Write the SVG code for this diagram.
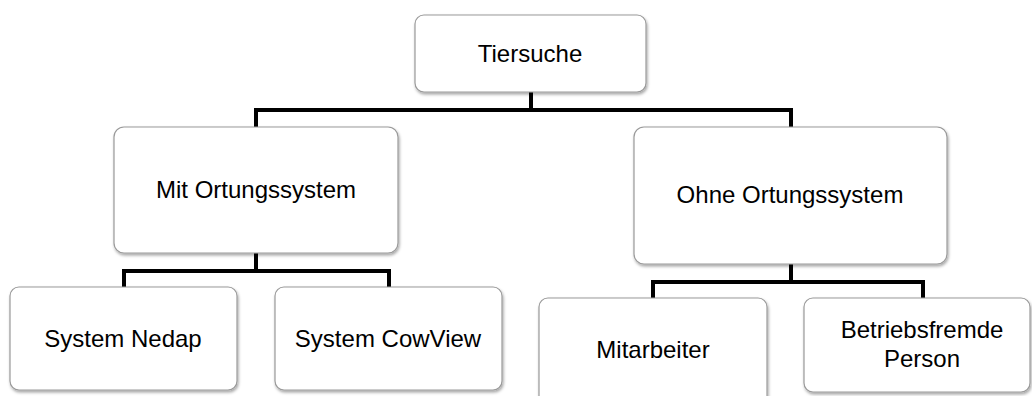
<svg xmlns="http://www.w3.org/2000/svg" width="1032" height="396" viewBox="0 0 1032 396">
<defs>
<filter id="sh" x="-10%" y="-10%" width="120%" height="130%">
<feDropShadow dx="1" dy="2" stdDeviation="1.6" flood-color="#000" flood-opacity="0.35"/>
</filter>
<style>
.box{fill:#fff;stroke:#9a9a9a;stroke-width:1.2;filter:url(#sh)}
.lbl{font-family:"Liberation Sans",Arial,sans-serif;font-size:24px;fill:#000;text-anchor:middle}
.con{fill:none;stroke:#000;stroke-width:4;stroke-linejoin:miter}
</style>
</defs>
<rect width="1032" height="396" fill="#fff"/>
<g id="connectors">
<path class="con" d="M256,127 V110 H791 V127 M531,92 V110"/>
<path class="con" d="M124,287 V271 H389 V287 M256,253 V271"/>
<path class="con" d="M653,298 V282 H923 V298 M791,264 V282"/>
</g>
<g id="n-tiersuche">
<rect class="box" x="415" y="15" width="231" height="77" rx="9"/>
<text class="lbl" x="530" y="62">Tiersuche</text>
</g>
<g id="n-mit">
<rect class="box" x="114" y="127" width="284" height="126" rx="10"/>
<text class="lbl" x="256" y="198">Mit Ortungssystem</text>
</g>
<g id="n-ohne">
<rect class="box" x="634" y="127" width="313" height="137" rx="10"/>
<text class="lbl" x="790" y="203">Ohne Ortungssystem</text>
</g>
<g id="n-nedap">
<rect class="box" x="10" y="287" width="227" height="103" rx="9"/>
<text class="lbl" x="123" y="347">System Nedap</text>
</g>
<g id="n-cowview">
<rect class="box" x="275" y="287" width="227" height="103" rx="9"/>
<text class="lbl" x="388" y="347">System CowView</text>
</g>
<g id="n-mitarbeiter">
<rect class="box" x="539" y="298" width="228" height="120" rx="9"/>
<text class="lbl" x="653" y="358">Mitarbeiter</text>
</g>
<g id="n-betriebsfremde">
<rect class="box" x="804" y="298" width="226" height="94" rx="9"/>
<text class="lbl" x="922" y="338">Betriebsfremde</text>
<text class="lbl" x="922" y="367">Person</text>
</g>
</svg>
